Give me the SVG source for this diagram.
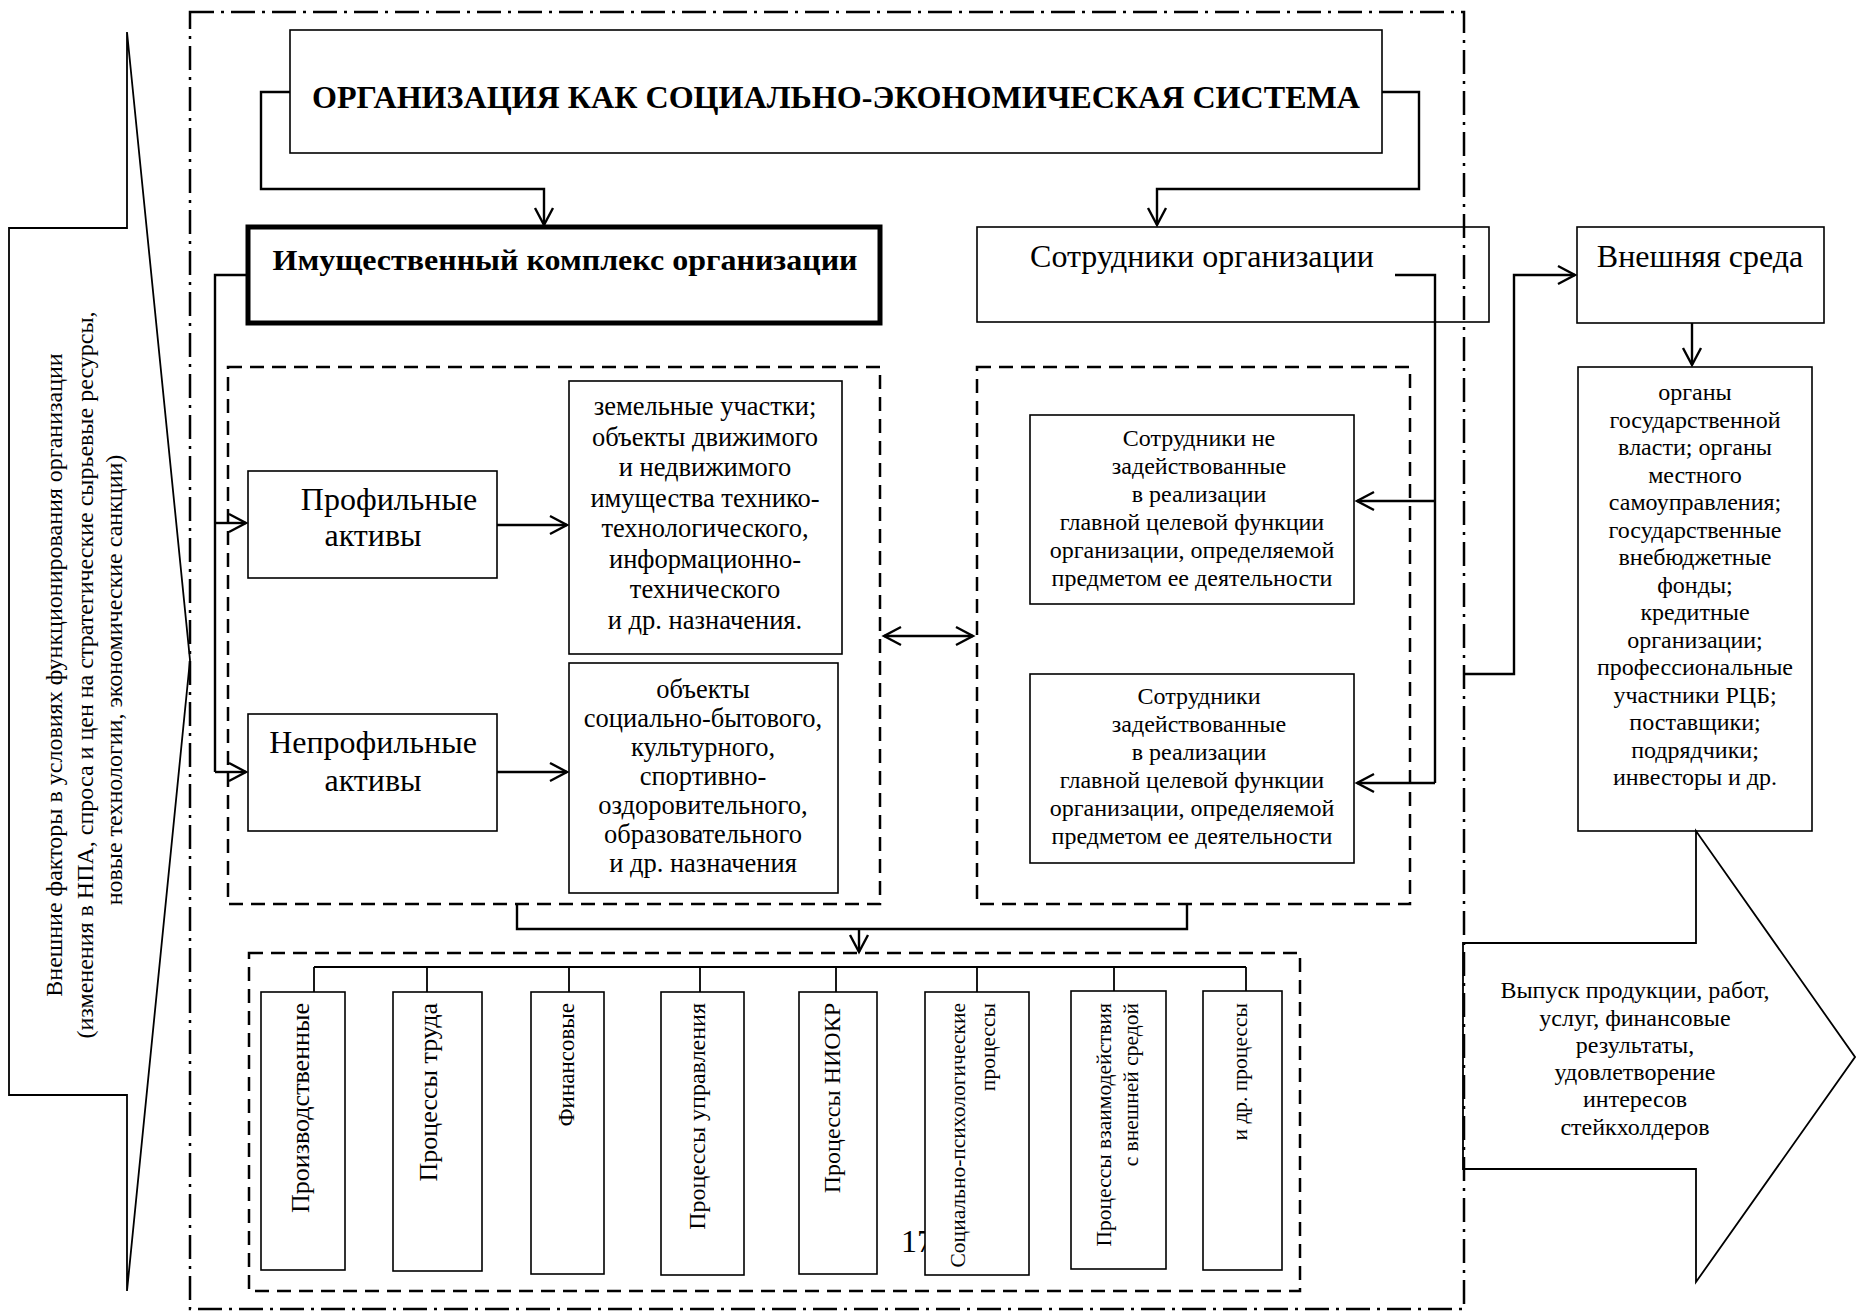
<svg xmlns="http://www.w3.org/2000/svg" width="1856" height="1311" viewBox="0 0 1856 1311">
<style>
text{font-family:"Liberation Serif","Times New Roman",serif;fill:#000}
.box{fill:#fff;stroke:#000;stroke-width:1.6}
.boxn{fill:none;stroke:#000;stroke-width:1.6}
.dash{fill:none;stroke:#000;stroke-width:2.5;stroke-dasharray:14 8}
.frame{fill:none;stroke:#000;stroke-width:2.5;stroke-dasharray:24 7 3 7}
.ln{fill:none;stroke:#000;stroke-width:2.4}
.thin{fill:none;stroke:#000;stroke-width:1.8}
.arr{fill:none;stroke:#000;stroke-width:2.4;marker-end:url(#ah)}
.c{text-anchor:middle}
.e{text-anchor:end}
.f24{font-size:24px}
.f26{font-size:26.5px}
.f32{font-size:32px}
</style>
<defs>
<marker id="ah" markerUnits="userSpaceOnUse" markerWidth="26" markerHeight="26" viewBox="-20 -13 26 26" refX="0" refY="0" orient="auto-start-reverse">
<path d="M-17,-9 L0,0 L-17,9" fill="none" stroke="#000" stroke-width="2.4"/>
</marker>
</defs>

<g id="frame">
<rect class="frame" x="190" y="12" width="1274" height="1297"/>
</g>

<g id="external-factors">
<polygon class="thin" points="127,32 190,660 127,1291 127,1095 9,1095 9,228 127,228" fill="#fff"/>
<text class="c f24" transform="translate(62,675) rotate(-90)">Внешние факторы в условиях функционирования организации</text>
<text class="c f24" transform="translate(93,675) rotate(-90)">(изменения в НПА, спроса и цен на стратегические сырьевые ресурсы,</text>
<text class="c f24" transform="translate(122,680) rotate(-90)">новые технологии, экономические санкции)</text>
</g>

<g id="title">
<rect class="box" x="290" y="30" width="1092" height="123" stroke-width="2.4"/>
<text class="c" x="836" y="108" font-size="31" font-weight="bold" textLength="1048" lengthAdjust="spacingAndGlyphs">ОРГАНИЗАЦИЯ КАК СОЦИАЛЬНО-ЭКОНОМИЧЕСКАЯ СИСТЕМА</text>
</g>

<g id="property">
<rect x="248" y="227" width="632" height="96" fill="#fff" stroke="#000" stroke-width="5"/>
<text class="c" x="565" y="270" font-size="30" font-weight="bold" textLength="585" lengthAdjust="spacingAndGlyphs">Имущественный комплекс организации</text>
</g>

<g id="employees">
<rect class="boxn" x="977" y="227" width="512" height="95"/>
<text class="c f32" x="1202" y="267">Сотрудники организации</text>
</g>

<g id="env">
<rect class="box" x="1577" y="227" width="247" height="96"/>
<text class="c f32" x="1700" y="267">Внешняя среда</text>
</g>

<g id="asset-group">
<rect class="dash" x="228" y="367" width="652" height="537"/>
</g>

<g id="profile">
<rect class="box" x="248" y="471" width="249" height="107"/>
<text class="c f32" x="389" y="510">Профильные</text>
<text class="c f32" x="373" y="546">активы</text>
</g>

<g id="nonprofile">
<rect class="box" x="248" y="714" width="249" height="117"/>
<text class="c f32" x="373" y="753">Непрофильные</text>
<text class="c f32" x="373" y="791">активы</text>
</g>

<g id="land">
<rect class="box" x="569" y="381" width="273" height="273"/>
<text class="c f26" x="705" y="415">земельные участки;</text>
<text class="c f26" x="705" y="445.5">объекты движимого</text>
<text class="c f26" x="705" y="476">и недвижимого</text>
<text class="c f26" x="705" y="506.5">имущества технико-</text>
<text class="c f26" x="705" y="537">технологического,</text>
<text class="c f26" x="705" y="567.5">информационно-</text>
<text class="c f26" x="705" y="598">технического</text>
<text class="c f26" x="705" y="628.5">и др. назначения.</text>
</g>

<g id="social">
<rect class="box" x="569" y="663" width="269" height="230"/>
<text class="c f26" x="703" y="698">объекты</text>
<text class="c f26" x="703" y="727">социально-бытового,</text>
<text class="c f26" x="703" y="756">культурного,</text>
<text class="c f26" x="703" y="785">спортивно-</text>
<text class="c f26" x="703" y="814">оздоровительного,</text>
<text class="c f26" x="703" y="843">образовательного</text>
<text class="c f26" x="703" y="872">и др. назначения</text>
</g>

<g id="staff-group">
<rect class="dash" x="977" y="367" width="433" height="537"/>
</g>

<g id="staff-not">
<rect class="box" x="1030" y="415" width="324" height="189"/>
<text class="c f24" x="1199" y="446">Сотрудники не</text>
<text class="c f24" x="1199" y="474">задействованные</text>
<text class="c f24" x="1199" y="502">в реализации</text>
<text class="c f24" x="1192" y="530">главной целевой функции</text>
<text class="c f24" x="1192" y="558">организации, определяемой</text>
<text class="c f24" x="1192" y="586">предметом ее деятельности</text>
</g>

<g id="staff-yes">
<rect class="box" x="1030" y="674" width="324" height="189"/>
<text class="c f24" x="1199" y="704">Сотрудники</text>
<text class="c f24" x="1199" y="732">задействованные</text>
<text class="c f24" x="1199" y="760">в реализации</text>
<text class="c f24" x="1192" y="788">главной целевой функции</text>
<text class="c f24" x="1192" y="816">организации, определяемой</text>
<text class="c f24" x="1192" y="844">предметом ее деятельности</text>
</g>

<g id="env-list">
<rect class="box" x="1578" y="367" width="234" height="464"/>
<text class="c f24" x="1695" y="400">органы</text>
<text class="c f24" x="1695" y="427.5">государственной</text>
<text class="c f24" x="1695" y="455">власти; органы</text>
<text class="c f24" x="1695" y="482.5">местного</text>
<text class="c f24" x="1695" y="510">самоуправления;</text>
<text class="c f24" x="1695" y="537.5">государственные</text>
<text class="c f24" x="1695" y="565">внебюджетные</text>
<text class="c f24" x="1695" y="592.5">фонды;</text>
<text class="c f24" x="1695" y="620">кредитные</text>
<text class="c f24" x="1695" y="647.5">организации;</text>
<text class="c f24" x="1695" y="675">профессиональные</text>
<text class="c f24" x="1695" y="702.5">участники РЦБ;</text>
<text class="c f24" x="1695" y="730">поставщики;</text>
<text class="c f24" x="1695" y="757.5">подрядчики;</text>
<text class="c f24" x="1695" y="785">инвесторы и др.</text>
</g>

<g id="output">
<polygon class="thin" points="1463,943 1696,943 1696,831 1855,1057 1696,1282 1696,1169 1463,1169" fill="#fff"/>
<text class="c f24" x="1635" y="998">Выпуск продукции, работ,</text>
<text class="c f24" x="1635" y="1026">услуг, финансовые</text>
<text class="c f24" x="1635" y="1053">результаты,</text>
<text class="c f24" x="1635" y="1080">удовлетворение</text>
<text class="c f24" x="1635" y="1107">интересов</text>
<text class="c f24" x="1635" y="1135">стейкхолдеров</text>
</g>

<g id="process-group">
<rect class="dash" x="249" y="953" width="1051" height="338"/>
</g>

<g id="page-number">
<text x="901" y="1252" font-size="32">17</text>
</g>

<g id="p1">
<rect class="box" x="261" y="992" width="84" height="278"/>
<text class="e" font-size="26" transform="translate(309,1003) rotate(-90)">Производственные</text>
</g>
<g id="p2">
<rect class="box" x="393" y="992" width="89" height="279"/>
<text class="e" font-size="26" transform="translate(437,1003) rotate(-90)">Процессы труда</text>
</g>
<g id="p3">
<rect class="box" x="531" y="992" width="73" height="282"/>
<text class="e" font-size="23" transform="translate(574,1003) rotate(-90)">Финансовые</text>
</g>
<g id="p4">
<rect class="box" x="661" y="992" width="83" height="283"/>
<text class="e" font-size="24" transform="translate(705,1003) rotate(-90)">Процессы управления</text>
</g>
<g id="p5">
<rect class="box" x="799" y="992" width="78" height="282"/>
<text class="e" font-size="24" transform="translate(840,1003) rotate(-90)">Процессы НИОКР</text>
</g>
<g id="p6">
<rect class="box" x="925" y="992" width="104" height="283"/>
<text class="e" font-size="21.5" transform="translate(965,1003) rotate(-90)">Социально-психологические</text>
<text class="e" font-size="21.5" transform="translate(995,1003) rotate(-90)">процессы</text>
</g>
<g id="p7">
<rect class="box" x="1071" y="991" width="95" height="278"/>
<text class="e" font-size="21.5" transform="translate(1111,1003) rotate(-90)">Процессы взаимодействия</text>
<text class="e" font-size="21.5" transform="translate(1138,1003) rotate(-90)">с внешней  средой</text>
</g>
<g id="p8">
<rect class="box" x="1203" y="991" width="79" height="279"/>
<text class="e" font-size="21.5" transform="translate(1247,1003) rotate(-90)">и др. процессы</text>
</g>

<g id="connectors">
<polyline class="arr" points="290,92 261,92 261,189 544,189 544,225"/>
<polyline class="arr" points="1382,92 1419,92 1419,189 1157,189 1157,225"/>
<polyline class="ln" points="248,275 215,275 215,772"/>
<line class="arr" x1="215" y1="523" x2="246" y2="523"/>
<line class="arr" x1="215" y1="772" x2="246" y2="772"/>
<line class="arr" x1="497" y1="525" x2="567" y2="525"/>
<line class="arr" x1="497" y1="772" x2="567" y2="772"/>
<line class="arr" x1="884" y1="636" x2="973" y2="636" style="marker-start:url(#ah)"/>
<polyline class="ln" points="1395,275 1435,275 1435,783"/>
<line class="arr" x1="1435" y1="501" x2="1357" y2="501"/>
<line class="arr" x1="1435" y1="783" x2="1357" y2="783"/>
<polyline class="arr" points="1464,674 1514,674 1514,275 1575,275"/>
<line class="arr" x1="1692" y1="323" x2="1692" y2="365"/>
<polyline class="ln" points="517,904 517,929 1187,929 1187,904"/>
<line class="arr" x1="859" y1="929" x2="859" y2="952"/>
<g class="thin">
<line x1="314" y1="967" x2="1246" y2="967"/>
<line x1="314" y1="967" x2="314" y2="992"/>
<line x1="427" y1="967" x2="427" y2="992"/>
<line x1="569" y1="967" x2="569" y2="992"/>
<line x1="700" y1="967" x2="700" y2="992"/>
<line x1="836" y1="967" x2="836" y2="992"/>
<line x1="977" y1="967" x2="977" y2="992"/>
<line x1="1114" y1="967" x2="1114" y2="991"/>
<line x1="1246" y1="967" x2="1246" y2="991"/>
</g>
</g>
</svg>
